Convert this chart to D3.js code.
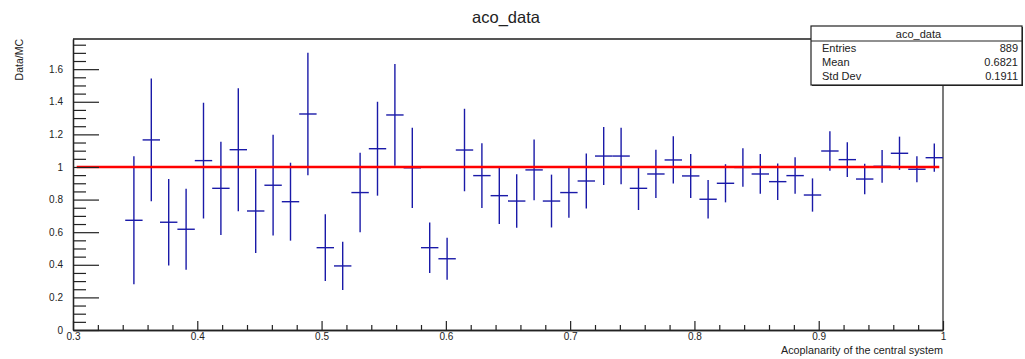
<!DOCTYPE html>
<html>
<head>
<meta charset="utf-8">
<script src="https://cdn.jsdelivr.net/npm/d3@7"></script>
<style>
  html, body { margin: 0; padding: 0; background: #fff; }
  svg { display: block; font-family: "Liberation Sans", Arial, sans-serif; }
</style>
</head>
<body>
<svg id="chart" width="1025" height="359"></svg>
<script>
// ---- data ----
const binCenters = [0.349, 0.363, 0.377, 0.391, 0.405, 0.419, 0.433, 0.447,
  0.461, 0.475, 0.489, 0.503, 0.517, 0.531, 0.545, 0.559, 0.573,
  0.587, 0.601, 0.615, 0.629, 0.643, 0.657, 0.671, 0.685,
  0.699, 0.713, 0.727, 0.741, 0.755, 0.769, 0.783, 0.797, 0.811,
  0.825, 0.839, 0.853, 0.867, 0.881, 0.895, 0.909, 0.923,
  0.937, 0.951, 0.965, 0.979, 0.993];
const binWidth = 0.014;
const ratio = [0.673, 1.166, 0.661, 0.618, 1.039, 0.869, 1.106, 0.730,
  0.888, 0.787, 1.325, 0.505, 0.393, 0.843, 1.112, 1.319, 0.995,
  0.505, 0.437, 1.104, 0.947, 0.824, 0.791, 0.982, 0.791,
  0.843, 0.914, 1.067, 1.067, 0.869, 0.957, 1.043, 0.945, 0.802,
  0.900, 0.997, 0.957, 0.910, 0.947, 0.828, 1.098, 1.045,
  0.926, 1.004, 1.084, 0.986, 1.057];
const ratioErr = [0.393, 0.376, 0.266, 0.248, 0.355, 0.286, 0.377, 0.258,
  0.309, 0.239, 0.375, 0.205, 0.148, 0.244, 0.288, 0.312, 0.246,
  0.155, 0.129, 0.253, 0.198, 0.174, 0.164, 0.186, 0.162,
  0.154, 0.169, 0.178, 0.173, 0.133, 0.148, 0.145, 0.135, 0.118,
  0.117, 0.118, 0.122, 0.112, 0.112, 0.102, 0.121, 0.107,
  0.094, 0.100, 0.102, 0.080, 0.087];
const refLine = { x0: 0.303, x1: 0.997, y: 1.0 };
const xMajorTicks = [0.3, 0.4, 0.5, 0.6, 0.7, 0.8, 0.9, 1.0];
const xTickLabels = ["0.3", "0.4", "0.5", "0.6", "0.7", "0.8", "0.9", "1"];
const xMinorTicks = [0.32,0.34,0.36,0.38,0.42,0.44,0.46,0.48,0.52,0.54,0.56,0.58,0.62,0.64,0.66,0.68,
  0.72,0.74,0.76,0.78,0.82,0.84,0.86,0.88,0.92,0.94,0.96,0.98];
const yMajorTicks = [0, 0.2, 0.4, 0.6, 0.8, 1.0, 1.2, 1.4, 1.6];
const yTickLabels = ["0", "0.2", "0.4", "0.6", "0.8", "1", "1.2", "1.4", "1.6"];
const yMinorTicks = [0.05,0.1,0.15,0.25,0.3,0.35,0.45,0.5,0.55,0.65,0.7,0.75,0.85,0.9,0.95,
  1.05,1.1,1.15,1.25,1.3,1.35,1.45,1.5,1.55,1.65,1.7,1.75];
const title = "aco_data";
const xTitle = "Acoplanarity of the central system";
const yTitle = "Data/MC";
const statsLabels = ["Entries", "Mean", "Std Dev"];
const statsValues = ["889", "0.6821", "0.1911"];

// ---- layout ----
const svg = d3.select("#chart");
const L = 73, R = 943, T = 39, B = 330;
const x = d3.scaleLinear().domain([0.3, 1.0]).range([L, R]);
const y = d3.scaleLinear().domain([0, 1.785]).range([B, T]);
const ink = "#222";

// frame
svg.append("line").attr("x1", L).attr("x2", R).attr("y1", T).attr("y2", T)
  .attr("stroke", "#555").attr("stroke-width", 2);
svg.append("line").attr("x1", R).attr("x2", R).attr("y1", T).attr("y2", B)
  .attr("stroke", "#222").attr("stroke-width", 1.2);

// error bars
const bars = svg.append("g").attr("stroke", "#1a1aa8").attr("stroke-width", 1.4);
binCenters.forEach((c, i) => {
  bars.append("line").attr("x1", x(c)).attr("x2", x(c))
    .attr("y1", y(ratio[i] - ratioErr[i])).attr("y2", y(ratio[i] + ratioErr[i]));
  bars.append("line").attr("x1", x(c - binWidth / 2)).attr("x2", x(c + binWidth / 2))
    .attr("y1", y(ratio[i])).attr("y2", y(ratio[i]));
});

// reference line
svg.append("line").attr("x1", x(refLine.x0)).attr("x2", x(refLine.x1))
  .attr("y1", y(refLine.y)).attr("y2", y(refLine.y))
  .attr("stroke", "#ff0000").attr("stroke-width", 2.6);

// axes
function styleAxis(g) {
  g.select(".domain").attr("stroke", "#222").attr("stroke-width", 1.3);
  g.selectAll(".tick line").attr("stroke", "#222").attr("stroke-width", 1.2);
  g.selectAll(".tick text").attr("fill", ink).attr("font-size", 10)
    .attr("font-family", "Liberation Sans, Arial, sans-serif");
}
svg.append("g").attr("transform", `translate(${L},0)`)
  .call(d3.axisLeft(y).tickValues(yMinorTicks).tickSize(-13).tickSizeOuter(0).tickFormat(""))
  .call(styleAxis);
svg.append("g").attr("transform", `translate(${L},0)`)
  .call(d3.axisLeft(y).tickValues(yMajorTicks).tickSize(-26).tickSizeOuter(0).tickPadding(10)
    .tickFormat((d, i) => yTickLabels[i]))
  .call(styleAxis);
svg.append("g").attr("transform", `translate(0,${B})`)
  .call(d3.axisBottom(x).tickValues(xMinorTicks).tickSize(-5).tickSizeOuter(0).tickFormat(""))
  .call(styleAxis);
svg.append("g").attr("transform", `translate(0,${B})`)
  .call(d3.axisBottom(x).tickValues(xMajorTicks).tickSize(-9).tickSizeOuter(0).tickPadding(3)
    .tickFormat((d, i) => xTickLabels[i]))
  .call(styleAxis);

// titles
svg.append("text").attr("x", 506).attr("y", 23).attr("text-anchor", "middle")
  .attr("font-size", 16.5).attr("fill", ink).text(title);
svg.append("text").attr("x", R).attr("y", 354).attr("text-anchor", "end")
  .attr("font-size", 10.8).attr("fill", ink).text(xTitle);
svg.append("text").attr("transform", `translate(23,${T}) rotate(-90)`)
  .attr("text-anchor", "end").attr("font-size", 10.5).attr("fill", ink).text(yTitle);

// stats box
const sb = { x0: 811, x1: 1022, y0: 26, y1: 85, hdr: 41 };
svg.append("rect").attr("x", sb.x0 + 1).attr("y", sb.y0 + 1)
  .attr("width", sb.x1 - sb.x0).attr("height", sb.y1 - sb.y0).attr("fill", "#222");
svg.append("rect").attr("x", sb.x0).attr("y", sb.y0)
  .attr("width", sb.x1 - sb.x0).attr("height", sb.y1 - sb.y0)
  .attr("fill", "#fff").attr("stroke", "#222").attr("stroke-width", 1.2);
svg.append("line").attr("x1", sb.x0).attr("x2", sb.x1).attr("y1", sb.hdr).attr("y2", sb.hdr)
  .attr("stroke", "#222").attr("stroke-width", 1.2);
svg.append("text").attr("x", (sb.x0 + sb.x1) / 2 + 2).attr("y", 38).attr("text-anchor", "middle")
  .attr("font-size", 11).attr("fill", ink).text(title);
const rowY = [52, 66, 80];
statsLabels.forEach((lab, i) => {
  svg.append("text").attr("x", 822).attr("y", rowY[i]).attr("font-size", 11)
    .attr("fill", ink).text(lab);
  svg.append("text").attr("x", 1018).attr("y", rowY[i]).attr("text-anchor", "end")
    .attr("font-size", 11).attr("fill", ink).text(statsValues[i]);
});
</script>
</body>
</html>
